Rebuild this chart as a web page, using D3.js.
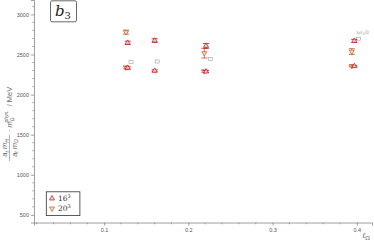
<!DOCTYPE html>
<html>
<head>
<meta charset="utf-8">
<script src="https://cdn.jsdelivr.net/npm/d3@7"></script>
<style>
  body { margin: 0; background: #fff; }
  text { font-family: "Liberation Sans", Arial, sans-serif; }
</style>
</head>
<body>
<div id="chart"></div>
<script>
// chart values
var ell16 = [0.128, 0.160, 0.221, 0.397];
var mass16 = [[2646, 2334], [2674, 2297], [2608, 2288], [2670, 2355]];
var err16 = [[20, 14], [22, 12], [30, 12], [18, 10]];

var ell20 = [0.126, 0.219, 0.394];
var mass20 = [[2779, 2338], [2517, 2291], [2537, 2357]];
var err20 = [[25, 16], [60, 12], [35, 10]];

var ellThr = [0.132, 0.163, 0.226, 0.402];
var massThr = [2409, 2413, 2446, 2697];

var yTicks = [500, 1000, 1500, 2000, 2500, 3000];
var xTicks = [0.1, 0.2, 0.3, 0.4];

var red = "#c8202c", orange = "#c8642a", grey = "#aaaaaa";

var W = 374, H = 243;
var margin = { left: 34, right: 2, top: 0, bottom: 20.5 };

var svg = d3.select("#chart").append("svg")
  .attr("width", W).attr("height", H);

var x = d3.scaleLinear().domain([0.0168, 0.418]).range([margin.left, W - margin.right]);
var y = d3.scaleLinear().domain([405, 3180]).range([H - margin.bottom, margin.top]);

// axes
var gx = svg.append("g")
  .attr("transform", "translate(0," + (H - margin.bottom) + ")")
  .call(d3.axisBottom(x).tickValues(xTicks).tickFormat(d3.format(".1f")).tickSize(3).tickPadding(3));
gx.append("g").selectAll("line")
  .data(d3.range(0.02, 0.42, 0.02).filter(function(v) { return Math.abs(v * 10 - Math.round(v * 10)) > 1e-6; }))
  .enter().append("line")
  .attr("x1", function(d) { return x(d); }).attr("x2", function(d) { return x(d); })
  .attr("y1", 0).attr("y2", 1.8).attr("stroke", "#777").attr("stroke-width", 0.6);

var gy = svg.append("g")
  .attr("transform", "translate(" + margin.left + ",0)")
  .call(d3.axisLeft(y).tickValues(yTicks).tickFormat(d3.format("d")).tickSize(3).tickPadding(2));
gy.append("g").selectAll("line")
  .data(d3.range(500, 3200, 100).filter(function(v) { return v % 500 !== 0; }))
  .enter().append("line")
  .attr("x1", 0).attr("x2", -1.8)
  .attr("y1", function(d) { return y(d); }).attr("y2", function(d) { return y(d); })
  .attr("stroke", "#777").attr("stroke-width", 0.6);

[gx, gy].forEach(function(g) {
  g.select(".domain").attr("stroke", "#777").attr("stroke-width", 0.7);
  g.selectAll(".tick line").attr("stroke", "#777").attr("stroke-width", 0.7);
  g.selectAll(".tick text").attr("fill", "#555").style("font-size", "5.5px");
});

// axis labels
svg.append("text")
  .attr("x", 362).attr("y", 238)
  .style("font-family", "DejaVu Serif, serif").style("font-style", "italic")
  .style("font-size", "8px").attr("fill", "#666")
  .html("ℓ<tspan dy='2' font-size='5.5px' font-style='normal'>Ω</tspan>");

var ylab = svg.append("g").attr("transform", "translate(10,112) rotate(-90)")
  .style("font-family", "DejaVu Serif, serif").attr("fill", "#666");
// fraction a_t m_H / a_t m_Ω
ylab.append("text").attr("x", -36).attr("y", -3)
  .attr("text-anchor", "middle")
  .style("font-size", "7.5px").style("font-style", "italic").attr("fill", "#666")
  .html("a<tspan dy='1.5' font-size='5px'>t</tspan><tspan dy='-1.5'> m</tspan><tspan dy='1.5' font-size='5px'>H</tspan>");
ylab.append("line").attr("x1", -49).attr("x2", -23).attr("y1", -0.5).attr("y2", -0.5)
  .attr("stroke", "#666").attr("stroke-width", 0.5);
ylab.append("text").attr("x", -36).attr("y", 6.5)
  .attr("text-anchor", "middle")
  .style("font-size", "7.5px").style("font-style", "italic").attr("fill", "#666")
  .html("a<tspan dy='1.5' font-size='5px'>t</tspan><tspan dy='-1.5'> m</tspan><tspan dy='1.5' font-size='5px'>Ω</tspan>");
ylab.append("text").attr("x", -20).attr("y", 2)
  .style("font-size", "7.5px").attr("fill", "#666")
  .html("· <tspan font-style='italic'>m</tspan><tspan dy='2' font-size='5px'>Ω</tspan><tspan dy='-6' dx='-5' font-size='5px' font-style='italic'>phys.</tspan><tspan dy='4' dx='2'> / MeV</tspan>");

// label box b3
svg.append("rect").attr("x", 50.5).attr("y", 0.8).attr("width", 26).attr("height", 21)
  .attr("rx", 1.5).attr("fill", "#fff").attr("stroke", "#444").attr("stroke-width", 0.8);
svg.append("text").attr("x", 55).attr("y", 16)
  .style("font-family", "DejaVu Serif, serif").style("font-style", "italic").style("font-size", "15px")
  .attr("fill", "#222")
  .html("b<tspan dy='3' font-size='10px' font-style='normal'>3</tspan>");

var tri = d3.symbol().type(d3.symbolTriangle).size(11);

function drawSeries(ells, masses, errs, color, down) {
  var pts = [];
  ells.forEach(function(e, i) {
    masses[i].forEach(function(m, j) { pts.push({ l: e, m: m, e: errs[i][j] }); });
  });
  var g = svg.append("g");
  var eb = g.selectAll(".eb").data(pts).enter().append("g");
  eb.append("line")
    .attr("x1", function(d) { return x(d.l); }).attr("x2", function(d) { return x(d.l); })
    .attr("y1", function(d) { return y(d.m - d.e); }).attr("y2", function(d) { return y(d.m + d.e); })
    .attr("stroke", color).attr("stroke-width", 0.8);
  [-1, 1].forEach(function(s) {
    eb.append("line")
      .attr("x1", function(d) { return x(d.l) - 3; }).attr("x2", function(d) { return x(d.l) + 3; })
      .attr("y1", function(d) { return y(d.m + s * d.e); }).attr("y2", function(d) { return y(d.m + s * d.e); })
      .attr("stroke", color).attr("stroke-width", 0.9);
  });
  g.selectAll(".pt").data(pts).enter().append("path")
    .attr("d", tri)
    .attr("transform", function(d) {
      return "translate(" + x(d.l) + "," + y(d.m) + ")" + (down ? " rotate(180)" : "");
    })
    .attr("fill", "#fbe3e0").attr("fill-opacity", 0.8)
    .attr("stroke", color).attr("stroke-width", 0.8);
}

// thresholds (grey squares)
svg.append("g").selectAll("rect").data(ellThr).enter().append("rect")
  .attr("x", function(d) { return x(d) - 2; })
  .attr("y", function(d, i) { return y(massThr[i]) - 1.5; })
  .attr("width", 4).attr("height", 3)
  .attr("fill", "#fff").attr("stroke", grey).attr("stroke-width", 0.7);
svg.append("text").attr("x", x(ellThr[3]) - 2).attr("y", y(massThr[3]) - 5)
  .style("font-family", "DejaVu Serif, serif").style("font-size", "6.5px").attr("fill", grey)
  .html("ω<tspan dy='1.5' font-size='4.5px'>3</tspan><tspan dy='-1.5'>π</tspan>");

drawSeries(ell20, mass20, err20, orange, true);
drawSeries(ell16, mass16, err16, red, false);

// legend
var lg = svg.append("g");
lg.append("rect").attr("x", 46.3).attr("y", 191.8).attr("width", 33.6).attr("height", 23.8)
  .attr("fill", "#fff").attr("stroke", "#333").attr("stroke-width", 0.8);
[["16", red, false], ["20", orange, true]].forEach(function(e, i) {
  var cy = 198.5 + i * 10;
  lg.append("path").attr("d", tri)
    .attr("transform", "translate(52," + cy + ")" + (e[2] ? " rotate(180)" : ""))
    .attr("fill", "#fbe3e0").attr("stroke", e[1]).attr("stroke-width", 0.8);
  lg.append("text").attr("x", 58).attr("y", cy + 2.5)
    .style("font-family", "DejaVu Serif, serif").style("font-size", "7.5px").attr("fill", "#333")
    .html(e[0] + "<tspan dy='-3' font-size='5px'>3</tspan>");
});
</script>
</body>
</html>
